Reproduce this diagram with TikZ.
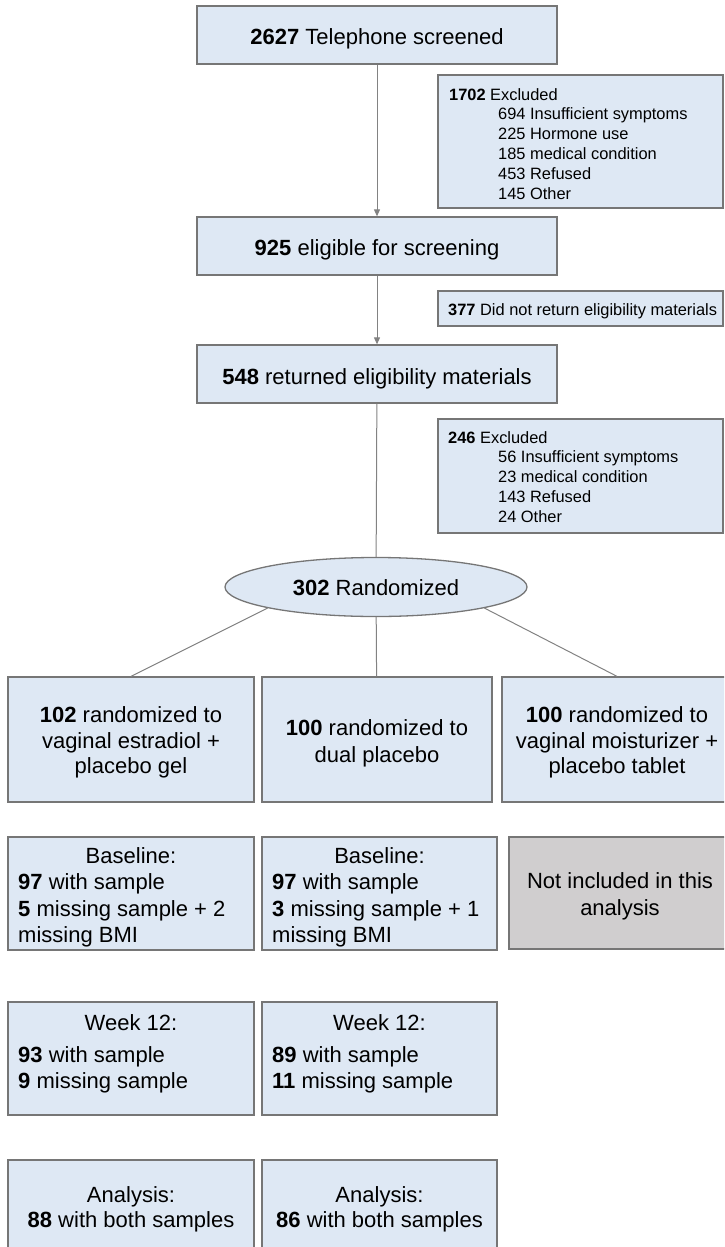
\documentclass[tikz,border=0pt]{standalone}
\usepackage{fontspec}
\setmainfont{Liberation Sans}
\usetikzlibrary{arrows.meta,shapes.geometric}
\definecolor{boxfill}{RGB}{222,232,244}
\definecolor{greyfill}{RGB}{208,206,207}
\definecolor{edgecol}{RGB}{118,118,118}
\definecolor{conncol}{RGB}{130,130,130}
\begin{document}
\begin{tikzpicture}[x=1pt,y=-1pt,
  box/.style={draw=edgecol, line width=1.3pt, fill=boxfill, rectangle, inner sep=0pt},
  greybox/.style={box, fill=greyfill},
  big/.style={inner sep=0pt, font=\fontsize{22}{26}\selectfont},
  small/.style={inner sep=0pt, font=\fontsize{16.4}{20}\selectfont},
  conn/.style={draw=conncol, line width=1pt},
  tip/.style={-{Triangle[width=6pt,length=7pt]}}]
\useasboundingbox (0,0) rectangle (724,1247);
\clip (0,0) rectangle (724,1247);

% boxes
\node[box, minimum width=360, minimum height=58] (tel) at (377,35) {};
\node[box, minimum width=285, minimum height=133] (ex1) at (580.5,141.5) {};
\node[box, minimum width=360, minimum height=58] (elig) at (377,246) {};
\node[box, minimum width=285, minimum height=35] (ex2) at (580.5,308.5) {};
\node[box, minimum width=360, minimum height=58] (ret) at (377,374) {};
\node[box, minimum width=285, minimum height=114] (ex3) at (580.5,476) {};
\node[box, ellipse, minimum width=302, minimum height=59] (rand) at (376,587) {};
\node[box, minimum width=246, minimum height=125] (r1) at (131,739.5) {};
\node[box, minimum width=230, minimum height=125] (r2) at (377,739.5) {};
\node[box, minimum width=230, minimum height=125] (r3) at (617,739.5) {};
\node[box, minimum width=246, minimum height=113] (b1) at (131,893.5) {};
\node[box, minimum width=235, minimum height=113] (b2) at (379.5,893.5) {};
\node[greybox, minimum width=222, minimum height=112] (g3) at (620,893) {};
\node[box, minimum width=246, minimum height=113] (w1) at (131,1058.5) {};
\node[box, minimum width=235, minimum height=113] (w2) at (379.5,1058.5) {};
\node[box, minimum width=246, minimum height=110] (a1) at (131,1215) {};
\node[box, minimum width=235, minimum height=110] (a2) at (379.5,1215) {};

% connectors
\draw[conn, tip] (tel) -- (elig);
\draw[conn, tip] (elig) -- (ret);
\draw[conn] (ret) -- (rand);
\draw[conn] (rand.191) -- (r1.north);
\draw[conn] (rand) -- (r2);
\draw[conn] (rand.-11) -- (r3.north);

% texts: top column
\node[big, anchor=base] (telt) at (377,45) {\textbf{2627} Telephone screened};
\node[big, anchor=base] (eligt) at (377,255) {\textbf{925} eligible for screening};
\node[big, anchor=base] (rett) at (377,384) {\textbf{548} returned eligibility materials};
\node[big, anchor=base] (randt) at (376,595) {\textbf{302} Randomized};

% exclusion texts
\node[small, anchor=base west] (ex1h) at (449,100) {\textbf{1702} Excluded};
\foreach \t [count=\i] in {694 Insufficient symptoms, 225 Hormone use, 185 medical condition, 453 Refused, 145 Other}
  \node[small, anchor=base west] (ex1l\i) at (498,100+19.8*\i) {\t};
\node[small, anchor=base west] (ex2t) at (448,315) {\textbf{377} Did not return eligibility materials};
\node[small, anchor=base west] (ex3h) at (448,443) {\textbf{246} Excluded};
\foreach \t [count=\i] in {56 Insufficient symptoms, 23 medical condition, 143 Refused, 24 Other}
  \node[small, anchor=base west] (ex3l\i) at (498,443+19.8*\i) {\t};

% randomization arms
\node[big, anchor=base] (r1a) at (131,722) {\textbf{102} randomized to};
\node[big, anchor=base] (r1b) at (131,748) {vaginal estradiol +};
\node[big, anchor=base] (r1c) at (131,773) {placebo gel};
\node[big, anchor=base] (r2a) at (377,735) {\textbf{100} randomized to};
\node[big, anchor=base] (r2b) at (377,762) {dual placebo};
\node[big, anchor=base] (r3a) at (617,722) {\textbf{100} randomized to};
\node[big, anchor=base] (r3b) at (617,748) {vaginal moisturizer +};
\node[big, anchor=base] (r3c) at (617,773) {placebo tablet};

% baseline
\node[big, anchor=base] (b1a) at (131,863) {Baseline:};
\node[big, anchor=base west] (b1b) at (18,889) {\textbf{97} with sample};
\node[big, anchor=base west] (b1c) at (18,916) {\textbf{5} missing sample + 2};
\node[big, anchor=base west] (b1d) at (18,942) {missing BMI};
\node[big, anchor=base] (b2a) at (379.5,863) {Baseline:};
\node[big, anchor=base west] (b2b) at (272,889) {\textbf{97} with sample};
\node[big, anchor=base west] (b2c) at (272,916) {\textbf{3} missing sample + 1};
\node[big, anchor=base west] (b2d) at (272,942) {missing BMI};
\node[big, anchor=base] (g3a) at (620,888) {Not included in this};
\node[big, anchor=base] (g3b) at (620,915) {analysis};

% week 12
\node[big, anchor=base] (w1a) at (131,1030) {Week 12:};
\node[big, anchor=base west] (w1b) at (18,1062) {\textbf{93} with sample};
\node[big, anchor=base west] (w1c) at (18,1088) {\textbf{9} missing sample};
\node[big, anchor=base] (w2a) at (379.5,1030) {Week 12:};
\node[big, anchor=base west] (w2b) at (272,1062) {\textbf{89} with sample};
\node[big, anchor=base west] (w2c) at (272,1088) {\textbf{11} missing sample};

% analysis
\node[big, anchor=base] (a1a) at (131,1202) {Analysis:};
\node[big, anchor=base] (a1b) at (131,1227) {\textbf{88} with both samples};
\node[big, anchor=base] (a2a) at (379.5,1202) {Analysis:};
\node[big, anchor=base] (a2b) at (379.5,1227) {\textbf{86} with both samples};
\end{tikzpicture}
\end{document}
